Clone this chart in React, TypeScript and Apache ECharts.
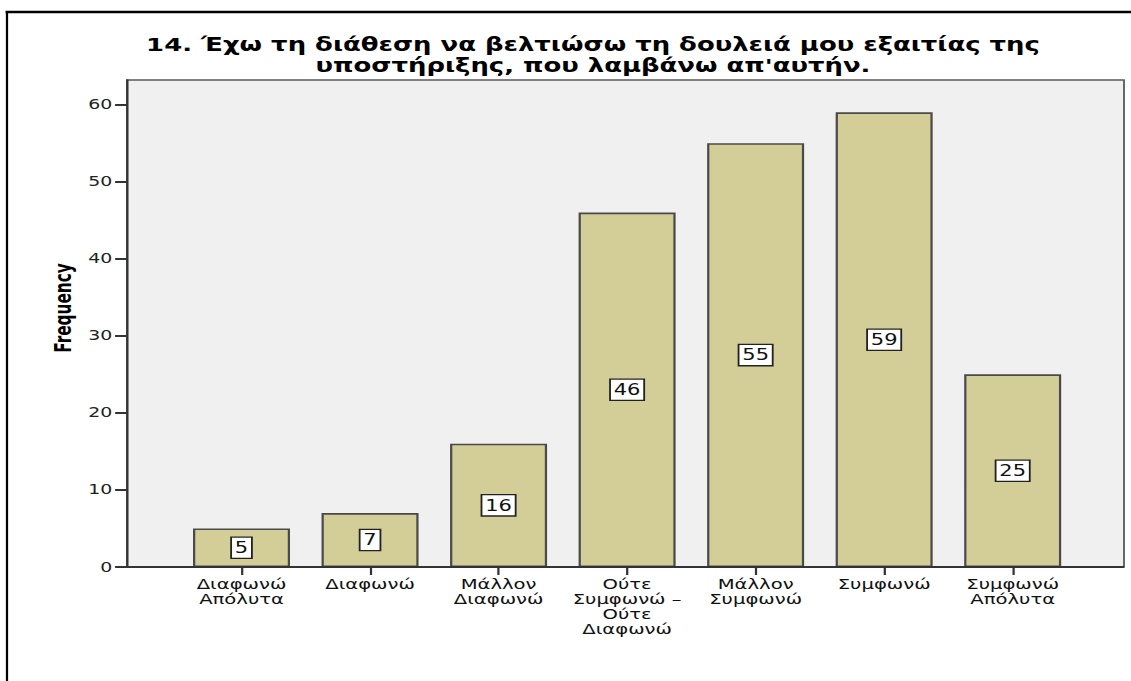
import React, { useEffect, useRef } from "react";
import * as echarts from "echarts";

const categories = [
  "Διαφωνώ\nΑπόλυτα",
  "Διαφωνώ",
  "Μάλλον\nΔιαφωνώ",
  "Ούτε\nΣυμφωνώ –\nΟύτε\nΔιαφωνώ",
  "Μάλλον\nΣυμφωνώ",
  "Συμφωνώ",
  "Συμφωνώ\nΑπόλυτα",
];
const frequencies = [5, 7, 16, 46, 55, 59, 25];
const yTicks = [0, 10, 20, 30, 40, 50, 60];
const titleText =
  "14. Έχω τη διάθεση να βελτιώσω τη δουλειά μου εξαιτίας της\nυποστήριξης, που λαμβάνω απ'αυτήν.";
const yAxisTitle = "Frequency";

const FONT = "'DejaVu Sans', Verdana, sans-serif";
// the reference image is stretched horizontally; draw narrower and stretch
const S = 1.4;
const W = 1131 / S;
const H = 681;

export default function App() {
  const ref = useRef<HTMLDivElement>(null);
  useEffect(() => {
    if (!ref.current) return;
    const chart = echarts.init(ref.current, null, { renderer: "svg" });
    const plotL = 127 / S;
    const plotT = 80;
    const plotR = 1124 / S;
    const plotB = 567;
    const gridL = 177.25 / S;
    const gridR = 1076.75 / S;
    chart.setOption({
      animation: false,
      backgroundColor: "#ffffff",
      grid: { left: gridL, right: W - gridR, top: plotT, bottom: H - plotB, containLabel: false },
      graphic: [
        {
          type: "rect",
          z: -10,
          shape: { x: plotL, y: plotT, width: plotR - plotL, height: plotB - plotT },
          style: { fill: "#f0f0f0", stroke: "#5a5a5a", lineWidth: 1.3 },
        },
        {
          type: "line",
          z: 10,
          shape: { x1: plotL, y1: plotB, x2: plotR, y2: plotB },
          style: { stroke: "#333", lineWidth: 2 },
        },
        {
          type: "line",
          shape: { x1: 4, y1: 12, x2: W, y2: 12 },
          style: { stroke: "#000", lineWidth: 2.5 },
        },
        {
          type: "line",
          shape: { x1: 5, y1: 11, x2: 5, y2: H },
          style: { stroke: "#000", lineWidth: 1.6 },
        },
        {
          type: "text",
          x: 593 / S,
          y: 34,
          style: {
            text: titleText,
            textAlign: "center",
            textVerticalAlign: "top",
            font: "bold 18.5px " + FONT,
            lineHeight: 21,
            fill: "#000",
          },
        },
        {
          type: "text",
          x: 63 / S,
          y: 308,
          rotation: Math.PI / 2,
          style: {
            text: yAxisTitle,
            textAlign: "center",
            textVerticalAlign: "middle",
            font: "bold 17px 'Liberation Sans Narrow', 'DejaVu Sans Condensed', sans-serif",
            fill: "#000",
          },
        },
      ],
      xAxis: {
        type: "category",
        data: categories,
        axisLine: { show: false },
        axisTick: {
          show: true,
          alignWithLabel: true,
          length: 8,
          lineStyle: { color: "#333", width: 1.6 },
        },
        axisLabel: {
          interval: 0,
          margin: 10,
          fontSize: 14,
          lineHeight: 15,
          color: "#111",
          fontFamily: FONT,
        },
        splitLine: { show: false },
      },
      yAxis: {
        type: "value",
        min: 0,
        max: 63.2,
        offset: gridL - plotL,
        axisLine: { show: true, lineStyle: { color: "#333", width: 1.6 } },
        axisTick: {
          show: true,
          length: 8.5,
          customValues: yTicks,
          lineStyle: { color: "#333", width: 2 },
        },
        axisLabel: {
          customValues: yTicks,
          margin: 10.5,
          fontSize: 13.5,
          color: "#222",
          fontFamily: FONT,
        },
        splitLine: { show: false },
      },
      series: [
        {
          type: "bar",
          data: frequencies,
          barWidth: 97 / S,
          itemStyle: { color: "#d3ce97", borderColor: "#4a4a4a", borderWidth: 1.6 },
          label: {
            show: true,
            position: "inside",
            fontSize: 15,
            fontFamily: FONT,
            color: "#111",
            backgroundColor: "#ffffff",
            borderColor: "#222",
            borderWidth: 1.3,
            padding: [3, 2, 2, 2],
          },
        },
      ],
    });
    return () => chart.dispose();
  }, []);
  return (
    <div
      style={{ position: "fixed", left: 0, top: 0, width: 1131, height: H, overflow: "hidden" }}
    >
      <div
        ref={ref}
        style={{
          width: W,
          height: H,
          transform: `scaleX(${S})`,
          transformOrigin: "0 0",
        }}
      />
    </div>
  );
}
